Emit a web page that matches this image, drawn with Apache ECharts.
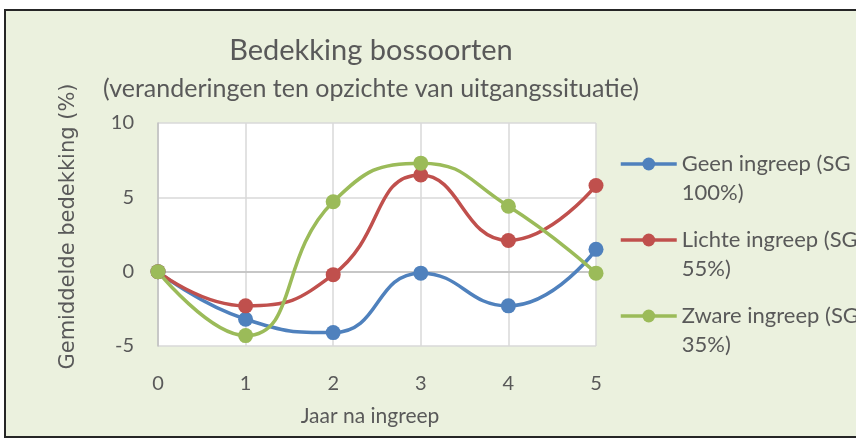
<!DOCTYPE html>
<html>
<head>
<meta charset="utf-8">
<script src="https://cdn.jsdelivr.net/npm/echarts@6/dist/echarts.min.js"></script>
<style>
  html, body { margin: 0; padding: 0; background: #fff; overflow: hidden; }
  #frame {
    position: absolute; left: 4px; top: 9px; width: 900px; height: 425px;
    border: 2px solid #262626; background: #ebf1de;
  }
  #chart { position: absolute; left: 0; top: 0; width: 856px; height: 439px; }
</style>
</head>
<body>
<div id="frame"></div>
<div id="chart"></div>
<script>
// jaren na ingreep
const years = ['0', '1', '2', '3', '4', '5'];
// gemiddelde bedekking (%) per behandeling
const geenIngreep = [0, -3.2, -4.1, -0.1, -2.3, 1.5];
const lichteIngreep = [0, -2.3, -0.2, 6.5, 2.1, 5.8];
const zwareIngreep = [0, -4.3, 4.7, 7.3, 4.4, -0.1];
const seriesNames = ['Geen ingreep (SG\n100%)', 'Lichte ingreep (SG\n55%)', 'Zware ingreep (SG\n35%)'];
const colors = ['#4f81bd', '#c0504d', '#9bbb59'];

const font = 'Lato, "Open Sans", sans-serif';
const textColor = '#595959';

function makeSeries(name, data, color) {
  return {
    name: name,
    type: 'line',
    data: data,
    smooth: 0.5,
    symbol: 'circle',
    symbolSize: 15,
    lineStyle: { width: 3.5, color: color },
    itemStyle: { color: color },
  };
}

// één legenda per reeks; een lege eerste regel zet het symbool bij de eerste tekstregel
const legendTops = [164, 240, 316];
const legends = seriesNames.map((name, i) => ({
  data: [name],
  left: 619,
  top: legendTops[i] - 43.5,
  orient: 'vertical',
  itemWidth: 56,
  itemHeight: 16,
  itemGap: 0,
  padding: 0,
  formatter: (n) => '\n' + n,
  lineStyle: { width: 3.5 },
  textStyle: {
    fontFamily: font,
    fontSize: 22,
    color: textColor,
    lineHeight: 29,
    align: 'left',
  },
}));

const chart = echarts.init(document.getElementById('chart'), null, { renderer: 'canvas' });
chart.setOption({
  backgroundColor: 'transparent',
  color: colors,
  title: [
    {
      text: 'Bedekking bossoorten',
      left: 366, top: 46, textAlign: 'center', textVerticalAlign: 'middle',
      textStyle: { fontFamily: font, fontSize: 29, fontWeight: 'normal', color: textColor },
    },
    {
      text: '(veranderingen ten opzichte van uitgangssituatie)',
      left: 366, top: 84, textAlign: 'center', textVerticalAlign: 'middle',
      textStyle: { fontFamily: font, fontSize: 25, fontWeight: 'normal', color: textColor },
    },
  ],
  legend: legends,
  grid: {
    left: 158, right: 260, top: 123, bottom: 93,
    show: true, backgroundColor: '#ffffff', borderWidth: 0,
  },
  xAxis: {
    type: 'category',
    data: years,
    boundaryGap: false,
    name: 'Jaar na ingreep',
    nameLocation: 'middle',
    nameGap: 60,
    nameTextStyle: { fontFamily: font, fontSize: 21, color: textColor, padding: [0, 14, 0, 0] },
    axisLine: { lineStyle: { color: '#bfbfbf', width: 1.5 } },
    axisTick: { show: false },
    axisLabel: { margin: 28, fontFamily: font, fontSize: 20, color: textColor },
    splitLine: { show: true, lineStyle: { color: '#d9d9d9', width: 1.5 } },
  },
  yAxis: {
    type: 'value',
    min: -5, max: 10, interval: 5,
    name: 'Gemiddelde bedekking (%)',
    nameLocation: 'middle',
    nameGap: 79,
    nameTextStyle: { fontFamily: '"DejaVu Sans"', fontSize: 21, color: textColor, padding: [0, 0, 0, 16] },
    axisLine: { show: true, lineStyle: { color: '#bfbfbf', width: 1.5 } },
    axisTick: { show: false },
    axisLabel: { margin: 24, fontFamily: font, fontSize: 20, color: textColor },
    splitLine: { show: true, lineStyle: { color: '#d9d9d9', width: 1.5 } },
  },
  series: [
    makeSeries(seriesNames[0], geenIngreep, colors[0]),
    makeSeries(seriesNames[1], lichteIngreep, colors[1]),
    makeSeries(seriesNames[2], zwareIngreep, colors[2]),
  ],
});
</script>
</body>
</html>
